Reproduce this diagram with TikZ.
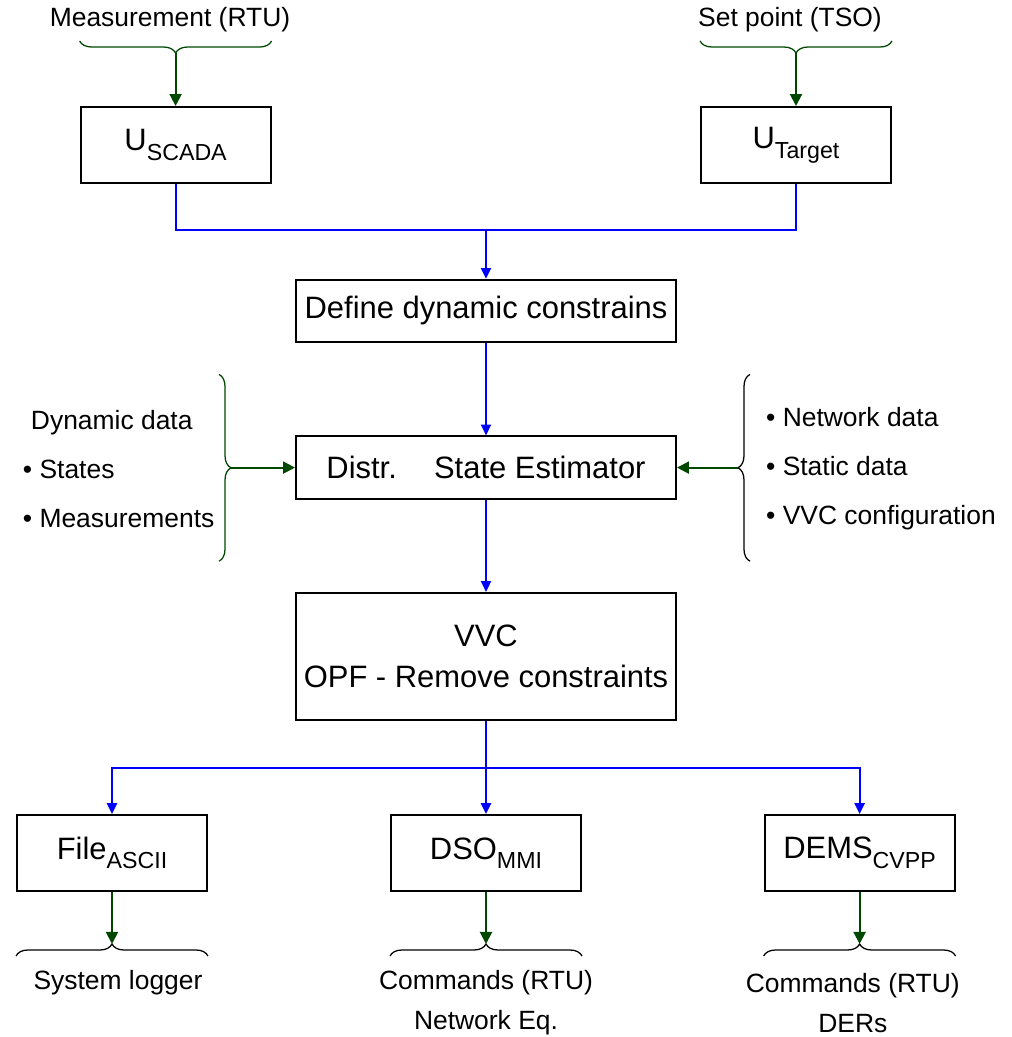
\documentclass[tikz,border=0pt]{standalone}
\usepackage{fontspec}
\setmainfont{Liberation Sans}
\usepackage{xcolor}
\usetikzlibrary{
    positioning,
    arrows.meta,
    decorations.pathreplacing,
    calc
}
\definecolor{feedgreen}{RGB}{0,72,0}
\newcommand{\lowtxt}[1]{\raisebox{-6.8pt}{\fontsize{16.5}{16.5}\selectfont #1}}

\begin{document}
\begin{tikzpicture}[
    every node/.style={font=\fontsize{18.8}{28.5}\selectfont},
    box/.style={rectangle, draw=black, line width=1.4pt, fill=white, align=center, font=\fontsize{22}{29}\selectfont, minimum width=4.75cm, minimum height=1.9cm},
    wide/.style={box, minimum width=9.5cm, minimum height=1.56cm},
    lbl/.style={align=center},
    flow/.style={-{Triangle[length=0.27cm,width=0.25cm]}, draw=blue, line width=1.4pt},
    flowline/.style={draw=blue, line width=1.4pt},
    feed/.style={-{Triangle[length=0.3cm,width=0.3cm]}, draw=feedgreen, line width=1.4pt},
    brc/.style={decorate, decoration={brace, amplitude=0.3cm}, line width=0.9pt}
]
\useasboundingbox (0,0) rectangle (25.275,-25.925);

\node[box] (scada) at (4.39,-3.625) {U\lowtxt{SCADA}};
\node[box] (target) at (19.9,-3.625) {U\lowtxt{Target}};

\node[wide] (define) at (12.15,-7.775) {Define dynamic constrains};
\node[wide] (estim) at (12.15,-11.69) {Distr.\hspace{0.93cm}State Estimator};
\node[wide, minimum height=3.175cm] (vvc) at (12.15,-16.41) {VVC\\OPF - Remove constraints};

\node[box] (file) at (2.8,-21.325) {File\lowtxt{ASCII}};
\node[box] (dso) at (12.15,-21.325) {DSO\lowtxt{MMI}};
\node[box] (dems) at (21.49,-21.325) {DEMS\lowtxt{CVPP}};

% inputs on top
\node[lbl] (measlbl) at ([shift={(-0.14cm,2.15cm)}]scada.north) {Measurement (RTU)};
\node[lbl] (setlbl) at ([shift={(-0.15cm,2.15cm)}]target.north) {Set point (TSO)};
\draw[brc, draw=feedgreen, decoration={mirror}] ([yshift=1.625cm]scada.north west) -- ([yshift=1.625cm]scada.north east);
\draw[brc, draw=feedgreen, decoration={mirror}] ([yshift=1.625cm]target.north west) -- ([yshift=1.625cm]target.north east);
\coordinate (measin) at ([yshift=1.325cm]scada.north);
\coordinate (setin) at ([yshift=1.325cm]target.north);
\draw[feed] (measin) -- (scada);
\draw[feed] (setin) -- (target);

% side data
\node[lbl, align=left, anchor=west, font=\fontsize{18.8}{34.9}\selectfont] (dyndata) at (0.45,-11.72) {\hspace*{0.2cm}Dynamic data\\\textbullet\ States\\\textbullet\ Measurements};
\node[lbl, align=left, anchor=west, font=\fontsize{18.8}{34.9}\selectfont] (statdata) at (19.03,-11.72) {\textbullet\ Network data\\\textbullet\ Static data\\\textbullet\ VVC configuration};
\draw[brc, draw=feedgreen] ([shift={(-1.9cm,2.33cm)}]estim.west) -- ([shift={(-1.9cm,-2.34cm)}]estim.west);
\draw[brc] ([shift={(1.825cm,-2.34cm)}]estim.east) -- ([shift={(1.825cm,2.33cm)}]estim.east);
\coordinate (dynin) at ([xshift=-1.6cm]estim.west);
\coordinate (statin) at ([xshift=1.525cm]estim.east);
\draw[feed] (dynin) -- (estim);
\draw[feed] (statin) -- (estim);

% main flow
\coordinate (joinpt) at (12.15,-5.75);
\draw[flowline] (scada.south) |- (joinpt) -| (target.south);
\draw[flow] (joinpt) -- (define);
\draw[flow] (define) -- (estim);
\draw[flow] (estim) -- (vvc);
\coordinate (split) at (12.15,-19.2);
\draw[flow] (vvc) -- (dso);
\draw[flow] (split) -| (file);
\draw[flow] (split) -| (dems);

% outputs
\draw[brc] ([yshift=-1.6cm]file.south west) -- ([yshift=-1.6cm]file.south east);
\draw[brc] ([yshift=-1.6cm]dso.south west) -- ([yshift=-1.6cm]dso.south east);
\draw[brc] ([yshift=-1.6cm]dems.south west) -- ([yshift=-1.6cm]dems.south east);
\coordinate (fileout) at ([yshift=-1.3cm]file.south);
\coordinate (dsoout) at ([yshift=-1.3cm]dso.south);
\coordinate (demsout) at ([yshift=-1.3cm]dems.south);
\draw[feed] (file) -- (fileout);
\draw[feed] (dso) -- (dsoout);
\draw[feed] (dems) -- (demsout);
\node[lbl] (logger) at ([shift={(0.15cm,-2.275cm)}]file.south) {System logger};
\node[lbl] (netcmd) at ([yshift=-2.775cm]dso.south) {Commands (RTU)\\Network Eq.};
\node[lbl] (dercmd) at ([shift={(-0.17cm,-2.775cm)}]dems.south) {Commands (RTU)\\DERs};

\end{tikzpicture}
\end{document}
